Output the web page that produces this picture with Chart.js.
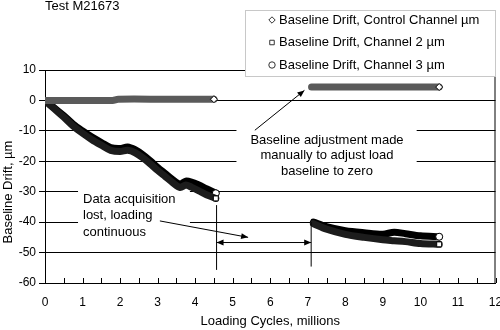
<!DOCTYPE html>
<html>
<head>
<meta charset="utf-8">
<style>
  html, body { margin: 0; padding: 0; background: #fff; }
</style>
</head>
<body>
<canvas id="graph" width="500" height="330"></canvas>
<script src="https://cdn.jsdelivr.net/npm/chart.js@4.4.1/dist/chart.umd.min.js"></script>
<script>
const FONT = "'Liberation Sans', Arial, sans-serif";

const seriesNames = [
  "Baseline Drift, Control Channel µm",
  "Baseline Drift, Channel 2 µm",
  "Baseline Drift, Channel 3 µm"
];

// control channel, before and after the gap
const ctrlX1 = [0, 0.9, 1.8, 1.95, 3.2, 4.5];
const ctrlY1 = [0, 0, 0, 0.4, 0.4, 0.4];
const ctrlX2 = [7.1, 8.8, 10.5];
const ctrlY2 = [4.4, 4.4, 4.4];

// channels 2 and 3, first part
const chX1 = [0, 0.25, 0.5, 0.75, 1.0, 1.25, 1.5, 1.75, 2.0, 2.2, 2.4, 2.6, 2.8, 3.0, 3.2, 3.4, 3.6, 3.75, 3.9, 4.1, 4.3, 4.55];
const ch3Y1 = [0, -2.5, -5, -7.8, -10, -12, -13.8, -15.5, -15.8, -15.3, -16.2, -17.8, -19.8, -22, -24, -26, -27.5, -26.5, -26.8, -27.8, -29, -30.5];
const ch2Y1 = [0, -2.8, -5.5, -8.4, -10.8, -12.9, -14.7, -16.4, -16.8, -16.4, -17.2, -18.8, -20.8, -23, -25, -27, -28.6, -27.8, -28.5, -29.7, -31, -32.2];

// channels 2 and 3, after the gap
const chX2 = [7.15, 7.5, 8.0, 8.5, 9.0, 9.3, 9.6, 10.0, 10.5];
const ch3Y2 = [-40, -41.5, -42.8, -43.5, -44, -43.3, -43.8, -44.5, -44.8];
const ch2Y2 = [-40.5, -42.3, -44, -45, -45.8, -46.1, -46.4, -47, -47.3];

const xTicks = { min: 0, max: 12, step: 1 };
const yTicks = { min: -60, max: 10, step: 10 };

function pts(xs1, ys1, xs2, ys2) {
  const a = xs1.map((x, i) => ({ x: x, y: ys1[i] }));
  const b = xs2.map((x, i) => ({ x: x, y: ys2[i] }));
  return a.concat([{ x: 5.8, y: null }], b);
}

// white marker only at the end of each run
function endRadius(ctx) {
  const data = ctx.dataset.data;
  const i = ctx.dataIndex;
  const next = data[i + 1];
  if (data[i].y === null) return 0;
  return (next === undefined || next.y === null) ? 3.5 : 0;
}

function series(label, data, color, style) {
  return {
    label: label,
    data: data,
    borderColor: color,
    borderWidth: 7,
    borderCapStyle: "round",
    borderJoinStyle: "round",
    tension: 0.3,
    spanGaps: false,
    pointStyle: style,
    pointRadius: endRadius,
    pointBackgroundColor: "#fff",
    pointBorderColor: "#000",
    pointBorderWidth: 1,
    pointHoverRadius: 0
  };
}

function arrowHead(c, x1, y1, x2, y2) {
  const a = Math.atan2(y2 - y1, x2 - x1);
  c.beginPath();
  c.moveTo(x2, y2);
  c.lineTo(x2 - 7 * Math.cos(a) + 3 * Math.sin(a), y2 - 7 * Math.sin(a) - 3 * Math.cos(a));
  c.lineTo(x2 - 7 * Math.cos(a) - 3 * Math.sin(a), y2 - 7 * Math.sin(a) + 3 * Math.cos(a));
  c.closePath();
  c.fill();
}

const notes = {
  boxes: [
    { x1: 0.88, x2: 3.86, y1: -28.9, y2: -46.9 },
    { x1: 5.1, x2: 9.9, y1: -8.2, y2: -26.2 }
  ],
  lines: [
    { x1: 4.57, y1: -34.4, x2: 4.57, y2: -55.7, head: 0 },
    { x1: 7.09, y1: -40, x2: 7.09, y2: -54.6, head: 0 },
    { x1: 4.57, y1: -46.7, x2: 7.09, y2: -46.7, head: 2 },
    { x1: 3.06, y1: -39.6, x2: 5.41, y2: -45.0, head: 1 },
    { x1: 5.59, y1: -9.8, x2: 6.91, y2: 3.3, head: 1 }
  ]
};

const decor = {
  id: "decor",
  beforeDatasetsDraw(chart) {
    const c = chart.ctx, x = chart.scales.x, y = chart.scales.y;
    c.save();
    c.fillStyle = "#fff";
    notes.boxes.forEach(b => {
      const l = x.getPixelForValue(b.x1), r = x.getPixelForValue(b.x2);
      const t = y.getPixelForValue(b.y1), bt = y.getPixelForValue(b.y2);
      c.fillRect(l, t, r - l, bt - t);
    });
    c.restore();
  },
  afterDraw(chart) {
    const c = chart.ctx, x = chart.scales.x, y = chart.scales.y;
    const area = chart.chartArea;
    c.save();
    c.strokeStyle = "#000";
    c.fillStyle = "#000";
    c.lineWidth = 1;

    // right border of the plot
    c.beginPath();
    c.moveTo(area.right - 0.5, area.top);
    c.lineTo(area.right - 0.5, area.bottom);
    c.stroke();

    // x ticks pointing up, every half million
    for (let v = xTicks.min; v <= xTicks.max; v += 0.5) {
      const px = Math.round(x.getPixelForValue(v)) + 0.5;
      c.beginPath();
      c.moveTo(px, area.bottom);
      c.lineTo(px, area.bottom - 5);
      c.stroke();
    }

    // annotation lines and arrows
    notes.lines.forEach(n => {
      const x1 = x.getPixelForValue(n.x1), y1 = y.getPixelForValue(n.y1);
      const x2 = x.getPixelForValue(n.x2), y2 = y.getPixelForValue(n.y2);
      c.beginPath();
      c.moveTo(x1, y1);
      c.lineTo(x2, y2);
      c.stroke();
      if (n.head >= 1) arrowHead(c, x1, y1, x2, y2);
      if (n.head === 2) arrowHead(c, x2, y2, x1, y1);
    });

    // annotation texts
    c.font = "13px " + FONT;
    c.textBaseline = "middle";
    c.textAlign = "left";
    ["Data acquisition", "lost, loading", "continuous"].forEach((s, i) => {
      c.fillText(s, 83, 199 + i * 16.5);
    });
    c.textAlign = "center";
    ["Baseline adjustment made", "manually to adjust load", "baseline to zero"].forEach((s, i) => {
      c.fillText(s, 327, 140 + i * 15.5);
    });

    // legend box
    c.fillStyle = "#fff";
    c.fillRect(245, 10, 251, 66);
    c.strokeStyle = "#c8c8c8";
    c.strokeRect(245.5, 10.5, 250, 66);
    const styles = ["rectRot", "rect", "circle"];
    seriesNames.forEach((s, i) => {
      const cy = 20 + i * 22.5;
      c.fillStyle = "#fff";
      c.strokeStyle = "#333";
      Chart.helpers.drawPoint(c, { pointStyle: styles[i], radius: 3.2, rotation: 0, borderWidth: 1 }, 272, cy);
      c.fillStyle = "#000";
      c.textAlign = "left";
      c.fillText(s, 279, cy);
    });

    // title and axis titles
    c.font = "13px " + FONT;
    c.textAlign = "left";
    c.textBaseline = "alphabetic";
    c.fillText("Test M21673", 45, 10);
    c.textAlign = "center";
    c.textBaseline = "middle";
    c.fillText("Loading Cycles, millions", (area.left + area.right) / 2, 321);
    c.translate(8, 192);
    c.rotate(-Math.PI / 2);
    c.fillText("Baseline Drift, µm", 0, 0);
    c.restore();
  }
};

const graph = document.getElementById("graph").getContext("2d");

let myChart = new Chart(graph, {
  type: "line",
  data: {
    datasets: [
      series(seriesNames[0], pts(ctrlX1, ctrlY1, ctrlX2, ctrlY2), "#5a5a5a", "rectRot"),
      series(seriesNames[1], pts(chX1, ch2Y1, chX2, ch2Y2), "#1c1c1c", "rect"),
      series(seriesNames[2], pts(chX1, ch3Y1, chX2, ch3Y2), "#000", "circle")
    ]
  },
  options: {
    responsive: false,
    animation: false,
    layout: {
      padding: { top: 70, right: 4, left: 0, bottom: 0 }
    },
    plugins: {
      legend: { display: false },
      title: { display: false },
      tooltip: { enabled: false }
    },
    scales: {
      x: {
        type: "linear",
        min: xTicks.min,
        max: xTicks.max,
        afterFit: s => { s.height = 47; s.paddingRight = 0; s.paddingLeft = 0; },
        ticks: {
          stepSize: xTicks.step,
          color: "#000",
          padding: 12,
          font: { family: FONT, size: 12 }
        },
        grid: { display: false, drawTicks: false },
        border: { display: true, color: "#000", width: 1 }
      },
      y: {
        min: yTicks.min,
        max: yTicks.max,
        afterFit: s => { s.width = 45; },
        ticks: {
          stepSize: yTicks.step,
          color: "#000",
          padding: 3,
          font: { family: FONT, size: 12 }
        },
        grid: { color: "#000", lineWidth: 1, drawTicks: true, tickLength: 6, tickColor: "#000" },
        border: { display: true, color: "#000", width: 1 }
      }
    }
  },
  plugins: [decor]
});
</script>
</body>
</html>
